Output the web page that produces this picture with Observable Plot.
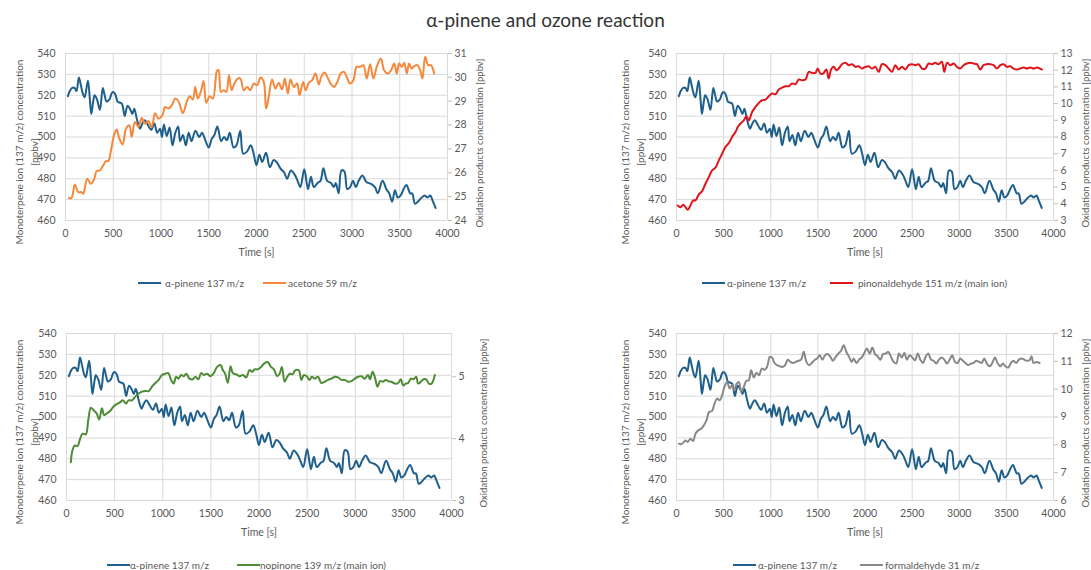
<!DOCTYPE html>
<html>
<head>
<meta charset="utf-8">
<script src="https://cdn.jsdelivr.net/npm/d3@7"></script>
<script src="https://cdn.jsdelivr.net/npm/@observablehq/plot@0.6"></script>
<style>
  body { margin:0; background:#fff; font-family: Lato, "Noto Sans", sans-serif; }
  #root { position:relative; width:1091px; height:570px; overflow:hidden; }
  .title { position:absolute; top:8px; left:0; width:1091px; text-align:center; font-size:19px; color:#333; }
  .panel { position:absolute; }
  .panel svg { overflow: visible; }
  .legend { position:absolute; height:14px; font-size:10px; color:#595959; }
  .legend .item { position:absolute; top:0; white-space:nowrap; line-height:14px; }
  .legend .sw { position:absolute; top:6px; width:23px; height:2px; }
</style>
</head>
<body>
<div id="root">
  <div class="title">α-pinene and ozone reaction</div>
</div>
<script>
// ---------- data ----------
const timeTicks = [0, 500, 1000, 1500, 2000, 2500, 3000, 3500, 4000];
const pineneTicks = [460, 470, 480, 490, 500, 510, 520, 530, 540];

const alphaPinene = [
[25,519.5],[45,522],[70,523.5],[95,523.5],[115,522],[140,528.5],[160,525],[180,521],[200,519],[235,527],
[255,518],[270,511],[290,517],[305,520],[330,518],[360,513],[390,523.5],[410,520],[430,517],[460,518],
[485,521],[505,521.5],[525,520],[545,517],[565,516.5],[590,516],[610,512],[620,510],[650,515],[680,513],
[700,511],[720,513.5],[750,508],[780,504],[800,506],[830,508],[860,506],[885,504],[900,503.5],[930,506.5],
[960,502],[990,504],[1010,500],[1030,506],[1060,500.5],[1090,504.5],[1120,496],[1150,502],[1180,505],[1200,498],
[1230,501],[1260,496],[1290,502],[1320,498],[1360,503],[1400,500],[1430,502],[1460,499],[1500,495],[1530,499],
[1560,501],[1590,505],[1630,498],[1660,500],[1690,498.5],[1720,502],[1760,495],[1790,496],[1830,503],[1860,492],
[1900,493],[1940,496],[1970,492],[2000,486.5],[2030,491.5],[2060,488],[2100,492.5],[2140,485.5],[2180,489],[2210,488],
[2250,485],[2290,483],[2320,480],[2360,484],[2400,482],[2430,479],[2460,476],[2500,484.5],[2540,475],[2570,481],
[2600,476],[2640,478],[2670,479],[2700,485],[2740,479],[2780,478],[2810,476],[2830,478],[2860,473],[2890,484],
[2920,483.5],[2950,475],[2980,476],[3010,479],[3040,476],[3070,479],[3110,481.5],[3150,478.5],[3200,477.5],[3240,476],
[3270,473],[3320,479],[3360,475],[3390,473],[3420,469],[3450,474.5],[3480,471],[3510,472],[3540,475],[3570,477],
[3610,473],[3630,473],[3660,468],[3690,469],[3720,470.5],[3760,472],[3790,471],[3820,472],[3840,470],[3875,466]
];

const acetoneTicks = [24, 25, 26, 27, 28, 29, 30, 31];
const acetone = [
[35,24.94],[63,24.94],[98,25.51],[133,25.19],[168,25.19],[185,25.12],[228,25.75],[263,25.54],[298,25.71],[326,26.07],
[360,26.1],[395,26.31],[424,26.49],[448,26.49],[476,26.94],[508,27.57],[535,27.81],[564,27.43],[598,27.19],[634,27.85],
[668,27.99],[693,27.5],[728,28.13],[763,27.92],[798,28.3],[833,28.06],[868,28.17],[903,27.92],[938,28.5],[973,28.27],
[1015,28.41],[1043,28.76],[1078,28.69],[1113,28.83],[1148,29.11],[1183,29.0],[1229,28.5],[1264,28.9],[1299,29.21],[1334,29.07],
[1358,29.6],[1386,29.11],[1421,29.46],[1446,29.85],[1474,28.93],[1509,29.21],[1544,29.11],[1586,30.27],[1603,30.3],[1628,29.39],
[1656,29.46],[1684,29.39],[1712,30.09],[1740,29.46],[1768,29.74],[1803,29.95],[1831,29.95],[1866,29.46],[1901,29.6],[1936,29.46],
[1971,29.74],[2006,29.67],[2041,29.99],[2076,29.81],[2100,28.69],[2128,29.18],[2163,29.91],[2198,29.53],[2233,29.77],[2268,29.49],
[2296,29.95],[2328,29.32],[2356,29.91],[2391,29.6],[2426,29.74],[2450,29.25],[2489,29.81],[2514,29.46],[2548,29.77],[2583,29.88],
[2618,30.16],[2653,29.7],[2678,30.02],[2713,30.2],[2741,30.02],[2776,29.74],[2811,29.6],[2846,29.81],[2881,30.16],[2916,30.23],
[2951,29.95],[2979,29.74],[3014,29.88],[3049,30.44],[3084,30.44],[3119,30.51],[3154,29.95],[3189,30.55],[3224,29.95],[3259,30.44],
[3301,30.79],[3336,30.3],[3371,30.16],[3406,30.27],[3441,30.58],[3469,30.16],[3493,30.58],[3521,30.44],[3546,30.61],[3574,30.16],
[3598,30.58],[3623,30.37],[3651,30.47],[3686,30.51],[3714,30.3],[3738,29.95],[3766,30.86],[3798,30.51],[3826,30.51],[3861,30.16]
];

const pinonaldehydeTicks = [3, 4, 5, 6, 7, 8, 9, 10, 11, 12, 13];
const pinonaldehyde = [
[14,3.9],[42,3.8],[71,3.94],[95,3.8],[120,3.64],[148,3.9],[177,4.2],[201,4.2],[237,4.56],[272,4.76],
[307,5.2],[343,5.6],[378,6.0],[413,6.16],[449,6.6],[484,7.0],[519,7.4],[555,7.64],[590,8.0],[626,8.3],
[650,8.6],[678,8.8],[714,9.0],[742,9.24],[767,9.0],[802,9.5],[838,9.8],[873,10.04],[908,10.2],[944,10.24],
[979,10.44],[1014,10.6],[1050,10.56],[1085,10.84],[1120,10.96],[1156,11.04],[1191,11.04],[1226,11.2],[1262,11.16],[1297,11.44],
[1332,11.4],[1368,11.44],[1403,11.9],[1438,11.84],[1474,11.84],[1498,12.1],[1527,11.8],[1555,11.8],[1590,12.04],[1615,11.5],
[1640,12.04],[1668,12.2],[1696,12.0],[1721,12.1],[1756,12.36],[1792,12.44],[1827,12.3],[1862,12.36],[1898,12.2],[1933,12.24],
[1968,12.1],[2004,12.2],[2039,12.24],[2074,12.1],[2110,12.2],[2145,11.9],[2180,12.36],[2216,12.3],[2251,12.1],[2286,11.9],
[2322,12.3],[2357,12.04],[2392,12.2],[2428,12.04],[2463,12.3],[2498,12.36],[2534,12.3],[2569,12.36],[2604,12.1],[2640,12.1],
[2675,12.4],[2710,12.36],[2745,12.44],[2781,12.36],[2816,12.5],[2841,11.9],[2870,12.44],[2905,12.3],[2940,12.4],[2976,12.2],
[3011,12.1],[3046,12.3],[3082,12.4],[3117,12.44],[3152,12.4],[3188,12.36],[3223,12.04],[3258,12.3],[3294,12.36],[3329,12.36],
[3364,12.3],[3400,12.1],[3435,12.3],[3470,12.36],[3506,12.2],[3541,12.24],[3576,12.1],[3612,12.04],[3647,12.1],[3682,12.16],
[3718,12.1],[3753,12.16],[3788,12.1],[3824,12.16],[3877,12.04]
];

const nopinoneTicks = [3, 4, 5];
const nopinone = [
[45,3.62],[62,3.81],[87,3.89],[115,3.88],[142,4.0],[167,4.08],[201,4.07],[226,4.3],[253,4.5],[281,4.46],
[312,4.41],[340,4.31],[368,4.49],[392,4.38],[420,4.41],[455,4.45],[489,4.52],[524,4.56],[559,4.59],[583,4.62],
[618,4.57],[645,4.62],[680,4.62],[715,4.68],[750,4.73],[784,4.76],[819,4.77],[854,4.77],[888,4.84],[923,4.9],
[958,4.95],[992,5.03],[1027,5.05],[1058,5.06],[1086,4.95],[1114,4.89],[1138,5.0],[1162,4.97],[1190,5.03],[1218,5.01],
[1246,5.05],[1277,4.97],[1312,4.96],[1339,5.0],[1371,4.96],[1398,5.06],[1426,5.03],[1461,5.05],[1496,5.01],[1530,5.06],
[1565,5.16],[1600,5.19],[1624,5.11],[1648,5.05],[1676,4.9],[1704,5.17],[1728,5.06],[1763,5.04],[1797,5.01],[1832,5.03],
[1867,4.99],[1902,5.11],[1929,5.08],[1954,5.12],[1988,5.12],[2023,5.16],[2058,5.22],[2092,5.24],[2120,5.17],[2155,5.12],
[2189,5.01],[2214,5.05],[2238,5.16],[2266,4.92],[2294,5.0],[2321,5.05],[2349,5.04],[2373,5.1],[2412,5.11],[2440,4.95],
[2467,5.03],[2495,5.01],[2523,4.95],[2550,5.0],[2578,4.97],[2613,5.0],[2648,4.9],[2682,4.92],[2717,4.95],[2752,4.97],
[2786,5.0],[2821,4.99],[2856,4.95],[2890,4.95],[2925,4.92],[2960,4.93],[2995,4.97],[3029,5.0],[3064,5.01],[3099,4.97],
[3133,5.03],[3154,4.96],[3179,5.08],[3203,5.0],[3231,4.84],[3258,4.93],[3290,4.92],[3317,4.95],[3342,4.93],[3376,4.92],
[3411,4.89],[3446,4.9],[3473,4.96],[3498,4.86],[3525,4.89],[3550,4.9],[3577,4.97],[3605,4.96],[3633,5.0],[3654,4.89],
[3682,4.92],[3709,4.96],[3737,4.96],[3765,4.89],[3793,4.89],[3827,5.03]
];

const formaldehydeTicks = [6, 7, 8, 9, 10, 11, 12];
const formaldehyde = [
[25,8.04],[49,8.02],[78,8.1],[95,8.16],[120,8.1],[148,8.22],[177,8.14],[201,8.4],[230,8.52],[262,8.58],
[290,8.7],[318,8.88],[346,9.18],[378,9.22],[403,9.48],[431,9.66],[459,9.6],[484,9.78],[509,10.08],[537,10.26],
[565,10.02],[590,10.14],[615,9.96],[636,10.18],[661,10.26],[689,9.9],[714,10.08],[742,10.3],[767,10.32],[792,10.68],
[820,10.42],[848,10.59],[876,10.5],[905,10.74],[933,10.7],[961,10.8],[990,11.16],[1014,11.14],[1039,10.94],[1067,10.86],
[1096,10.82],[1124,10.8],[1152,10.86],[1180,11.06],[1209,10.98],[1237,10.94],[1265,10.98],[1293,11.02],[1322,11.06],[1350,11.34],
[1378,10.98],[1406,10.86],[1435,10.94],[1463,11.04],[1491,11.1],[1520,11.22],[1548,11.06],[1576,11.22],[1604,11.26],[1633,11.16],
[1661,11.02],[1689,11.16],[1717,11.28],[1746,11.38],[1774,11.58],[1802,11.34],[1831,11.16],[1859,10.98],[1880,11.1],[1908,10.94],
[1937,11.06],[1965,11.14],[1993,11.3],[2021,11.46],[2050,11.28],[2078,11.5],[2106,11.26],[2134,11.18],[2163,11.06],[2191,11.26],
[2219,11.28],[2247,11.34],[2276,11.16],[2304,10.98],[2332,10.92],[2360,11.28],[2389,11.14],[2417,11.3],[2445,11.06],[2474,11.22],
[2502,11.14],[2530,11.04],[2559,11.28],[2587,11.06],[2615,10.94],[2643,11.16],[2672,11.28],[2700,11.06],[2728,11.02],[2756,10.92],
[2785,11.06],[2813,11.14],[2841,11.06],[2870,10.92],[2898,11.06],[2926,11.22],[2954,10.98],[2983,10.94],[3011,11.1],[3039,11.02],
[3067,10.94],[3096,10.86],[3124,10.92],[3152,10.94],[3180,11.02],[3209,10.98],[3237,10.94],[3265,11.1],[3293,10.92],[3322,10.82],
[3350,10.94],[3378,11.14],[3406,10.94],[3435,10.82],[3463,10.92],[3491,10.82],[3520,10.78],[3548,10.94],[3576,11.02],[3604,10.94],
[3633,11.06],[3661,11.1],[3689,11.06],[3717,11.02],[3746,11.04],[3767,11.18],[3788,10.94],[3817,10.98],[3852,10.94]
];

const pineneName = "α-pinene 137 m/z";
const leftLabel = "Monoterpene ion (137 m/z) concentration\n[ppbv]";
const rightLabel = "Oxidation products concentration [ppbv]";
const xLabel = "Time [s]";

// ---------- layout ----------
const BLUE = "#1f5f8b";
const panels = [
  { left:0,   top:40,  width:510, ml:65, mr:63, series:acetone,       dom:[24,31],  ticks:acetoneTicks,       color:"#f5883a", name:"acetone 59 m/z",                   leg:[138,165,263,288], legTop:276, ldx:-40 },
  { left:600, top:40,  width:491, ml:76, mr:38, series:pinonaldehyde, dom:[3,13],   ticks:pinonaldehydeTicks, color:"#e0141b", name:"pinonaldehyde 151 m/z (main ion)", leg:[102,127,230,258], legTop:276, ldx:-45 },
  { left:0,   top:320, width:510, ml:66, mr:59, series:nopinone,      dom:[3,5.7],  ticks:nopinoneTicks,      color:"#4d8c35", name:"nopinone 139 m/z (main ion)",      leg:[107,130,237,260], legTop:558, ldx:-41 },
  { left:600, top:320, width:491, ml:76, mr:38, series:formaldehyde,  dom:[6,12],   ticks:formaldehydeTicks,  color:"#888888", name:"formaldehyde 31 m/z",              leg:[133,158,260,285], legTop:558, ldx:-45 }
];

const root = document.getElementById("root");
const GRID = "#d9d9d9";
const TXT = "#595959";

panels.forEach(p => {
  const sy = d3.scaleLinear().domain(p.dom).range([460, 540]);
  const chart = Plot.plot({
    width: p.width,
    height: 230,
    marginLeft: p.ml,
    marginRight: p.mr,
    marginTop: 13,
    marginBottom: 50,
    style: { fontFamily: "Lato, 'Noto Sans', sans-serif", fontSize: "10.5px", color: TXT, background: "transparent", overflow: "visible" },
    x: { domain: [0, 4000] },
    y: { domain: [460, 540] },
    marks: [
      Plot.gridX(timeTicks, { stroke: GRID, strokeOpacity: 1 }),
      Plot.gridY(pineneTicks, { stroke: GRID, strokeOpacity: 1 }),
      Plot.axisX(timeTicks, { tickSize: 0, tickPadding: 9, tickFormat: d => String(d), label: null }),
      Plot.axisY(pineneTicks, { anchor: "left", tickSize: 0, tickPadding: 10, tickFormat: d => String(d), label: null }),
      Plot.axisY(p.ticks.map(sy), { anchor: "right", tickSize: 4, tickPadding: 3, stroke: "#bfbfbf",
        tickFormat: d => String(Math.round(sy.invert(d) * 100) / 100), label: null }),
      Plot.line(alphaPinene, { x: d => d[0], y: d => d[1], stroke: BLUE, strokeWidth: 2, curve: "catmull-rom" }),
      Plot.line(p.series, { x: d => d[0], y: d => sy(d[1]), stroke: p.color, strokeWidth: 2, curve: "catmull-rom" }),
      Plot.text([xLabel], { text: d => d, frameAnchor: "bottom", textAnchor: "middle", lineAnchor: "middle", dy: 32, fontSize: 10.5, fill: TXT }),
      Plot.text([leftLabel], { text: d => d, frameAnchor: "left", textAnchor: "middle", lineAnchor: "middle", dx: p.ldx, dy: 15, rotate: -90, fontSize: 10, lineHeight: 1.5, fill: TXT }),
      Plot.text([rightLabel], { text: d => d, frameAnchor: "right", textAnchor: "middle", lineAnchor: "middle", dx: 32, dy: 6, rotate: -90, fontSize: 9.5, fill: TXT })
    ]
  });
  const div = document.createElement("div");
  div.className = "panel";
  div.style.left = p.left + "px";
  div.style.top = p.top + "px";
  div.appendChild(chart);
  root.appendChild(div);

  const leg = document.createElement("div");
  leg.className = "legend";
  leg.style.left = p.left + "px";
  leg.style.top = p.legTop + "px";
  leg.style.width = p.width + "px";
  const items = [[BLUE, pineneName, p.leg[0], p.leg[1]], [p.color, p.name, p.leg[2], p.leg[3]]];
  items.forEach(([c, label, sx, tx]) => {
    const sw = document.createElement("div");
    sw.className = "sw";
    sw.style.left = sx + "px";
    sw.style.background = c;
    leg.appendChild(sw);
    const t = document.createElement("div");
    t.className = "item";
    t.style.left = tx + "px";
    t.textContent = label;
    leg.appendChild(t);
  });
  root.appendChild(leg);
});
</script>
</body>
</html>
